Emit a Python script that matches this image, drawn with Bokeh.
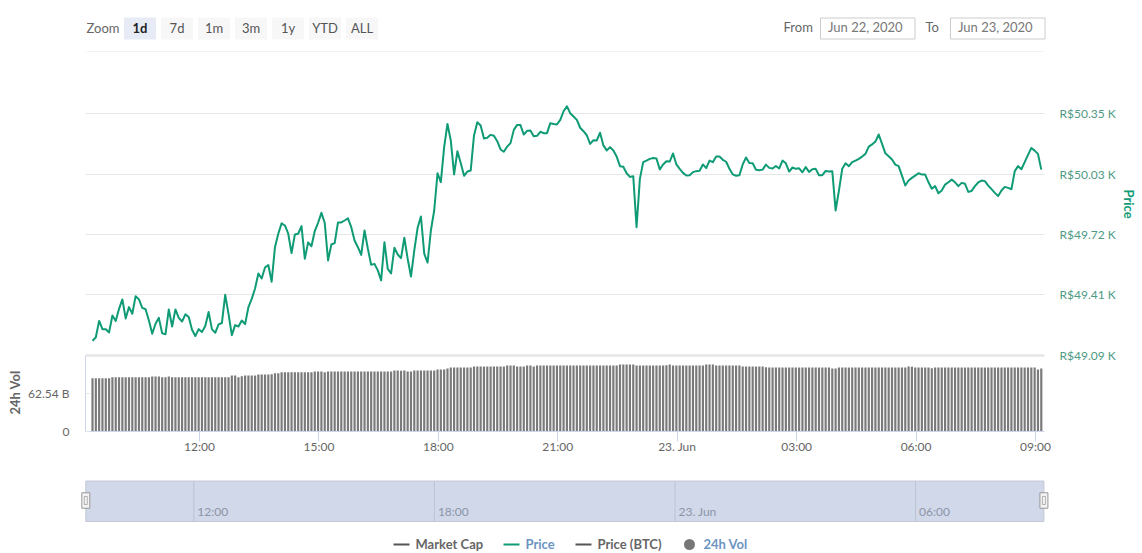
from bokeh.core.properties import value
from bokeh.embed import file_html
from bokeh.layouts import column
from bokeh.models import FixedTicker, LinearAxis, Range1d, Span, Title
from bokeh.plotting import figure
from bokeh.resources import INLINE

FONT = "Lato"
VFONT = value(FONT)
TEAL = "#0f9b75"
GREY = "#666666"

# ---- data ----
zoom_labels = ["1d", "7d", "1m", "3m", "1y", "YTD", "ALL"]
date_from = "Jun 22, 2020"
date_to = "Jun 23, 2020"
price_ticks = [49.09, 49.405, 49.72, 50.035, 50.35]
price_tick_labels = ["R$49.09 K", "R$49.41 K", "R$49.72 K", "R$50.03 K", "R$50.35 K"]
vol_ticks = [0, 62.54]
vol_tick_labels = ["0", "62.54 B"]
time_ticks = [12, 15, 18, 21, 24, 27, 30, 33]
time_tick_labels = ["12:00", "15:00", "18:00", "21:00", "23. Jun", "03:00", "06:00", "09:00"]
nav_ticks = [12, 18, 24, 30]
nav_tick_labels = ["12:00", "18:00", "23. Jun", "06:00"]
legend_labels = ["Market Cap", "Price", "Price (BTC)", "24h Vol"]
first_hour = 9.312  # 09:19 on 22 June, hours since midnight
step_hours = 5 / 60

price = [
    49.166, 49.185, 49.270, 49.227, 49.227, 49.210, 49.298, 49.270, 49.333, 49.382,
    49.283, 49.342, 49.307, 49.399, 49.382, 49.338, 49.331, 49.272, 49.203, 49.255,
    49.286, 49.205, 49.201, 49.330, 49.241, 49.330, 49.286, 49.267, 49.304, 49.290,
    49.224, 49.191, 49.227, 49.212, 49.243, 49.316, 49.227, 49.208, 49.252, 49.259,
    49.406, 49.307, 49.196, 49.248, 49.241, 49.272, 49.253, 49.342, 49.385, 49.439,
    49.517, 49.491, 49.548, 49.561, 49.474, 49.654, 49.724, 49.778, 49.767, 49.724,
    49.623, 49.720, 49.724, 49.764, 49.594, 49.679, 49.659, 49.738, 49.781, 49.833,
    49.781, 49.585, 49.668, 49.675, 49.783, 49.783, 49.793, 49.804, 49.758, 49.689,
    49.654, 49.614, 49.741, 49.646, 49.562, 49.567, 49.533, 49.481, 49.680, 49.541,
    49.517, 49.651, 49.616, 49.597, 49.703, 49.594, 49.501, 49.637, 49.755, 49.814,
    49.620, 49.574, 49.741, 49.845, 50.039, 49.993, 50.175, 50.296, 50.210, 50.033,
    50.154, 50.092, 50.026, 50.048, 50.053, 50.236, 50.305, 50.288, 50.220, 50.224,
    50.239, 50.234, 50.206, 50.163, 50.151, 50.178, 50.196, 50.265, 50.291, 50.290,
    50.241, 50.260, 50.262, 50.232, 50.234, 50.255, 50.248, 50.248, 50.300, 50.296,
    50.293, 50.317, 50.362, 50.388, 50.352, 50.335, 50.317, 50.276, 50.258, 50.237,
    50.192, 50.211, 50.210, 50.250, 50.184, 50.158, 50.175, 50.158, 50.126, 50.076,
    50.073, 50.039, 50.020, 50.024, 49.758, 50.010, 50.097, 50.105, 50.114, 50.118,
    50.116, 50.059, 50.085, 50.102, 50.100, 50.142, 50.085, 50.062, 50.041, 50.027,
    50.029, 50.045, 50.050, 50.052, 50.085, 50.066, 50.105, 50.097, 50.126, 50.126,
    50.109, 50.099, 50.062, 50.033, 50.026, 50.029, 50.085, 50.121, 50.092, 50.091,
    50.057, 50.055, 50.058, 50.084, 50.067, 50.064, 50.077, 50.064, 50.105, 50.091,
    50.048, 50.069, 50.062, 50.065, 50.044, 50.071, 50.046, 50.060, 50.062, 50.029,
    50.029, 50.051, 50.048, 50.050, 49.845, 49.949, 50.062, 50.091, 50.076, 50.097,
    50.105, 50.114, 50.126, 50.140, 50.178, 50.189, 50.204, 50.241, 50.192, 50.143,
    50.128, 50.111, 50.084, 50.076, 50.027, 49.975, 50.001, 50.015, 50.027, 50.039,
    50.032, 50.032, 49.992, 49.958, 49.972, 49.935, 49.949, 49.980, 49.992, 50.006,
    49.992, 49.972, 49.989, 49.984, 49.942, 49.947, 49.972, 49.991, 50.001, 49.998,
    49.975, 49.956, 49.937, 49.920, 49.949, 49.968, 49.963, 49.956, 50.050, 50.076,
    50.060, 50.097, 50.135, 50.171, 50.157, 50.140, 50.058,
]

volume = [
    87.7, 87.7, 87.7, 87.7, 87.7, 87.7, 89.4, 89.4, 89.4, 89.4,
    89.4, 89.4, 89.4, 89.4, 89.4, 89.4, 89.4, 89.4, 90.5, 90.5,
    90.5, 89.4, 89.4, 90.5, 89.4, 89.4, 89.4, 89.4, 89.4, 89.4,
    89.4, 89.4, 89.4, 89.4, 89.4, 89.4, 89.4, 89.4, 89.4, 89.4,
    89.4, 89.4, 92.2, 92.2, 89.4, 91.0, 92.2, 92.2, 92.2, 92.2,
    93.8, 93.8, 93.8, 93.8, 94.3, 96.0, 96.0, 97.6, 97.6, 97.6,
    97.6, 97.6, 97.6, 97.6, 97.6, 97.6, 97.6, 98.7, 98.7, 98.7,
    97.6, 98.7, 98.7, 98.7, 98.7, 98.7, 98.7, 98.7, 98.7, 98.7,
    98.7, 98.7, 98.7, 98.7, 98.7, 98.7, 98.7, 98.7, 98.7, 98.7,
    98.7, 100.4, 100.4, 99.8, 100.4, 98.7, 98.7, 100.4, 100.4, 100.4,
    100.4, 100.4, 100.4, 100.4, 102.0, 102.0, 102.0, 103.7, 105.3, 105.3,
    105.3, 105.3, 105.3, 105.3, 105.3, 106.9, 106.9, 106.9, 106.9, 106.9,
    106.9, 106.9, 106.9, 106.9, 106.9, 108.6, 108.6, 108.6, 106.9, 106.9,
    106.9, 108.6, 108.6, 106.9, 108.6, 108.6, 108.6, 108.6, 108.6, 108.6,
    108.6, 108.6, 108.6, 108.6, 108.6, 108.6, 108.6, 108.6, 108.6, 108.6,
    108.6, 108.6, 108.6, 108.6, 108.6, 108.6, 108.6, 108.6, 108.6, 110.2,
    110.2, 110.2, 110.2, 110.2, 108.6, 108.6, 108.6, 108.6, 108.6, 108.6,
    108.6, 108.6, 108.6, 109.2, 110.2, 108.6, 108.6, 108.6, 108.6, 108.6,
    108.6, 108.6, 108.6, 108.6, 108.6, 110.2, 110.2, 110.2, 108.6, 108.6,
    108.6, 108.6, 108.6, 108.6, 108.6, 108.6, 106.9, 106.9, 106.9, 106.9,
    106.9, 106.9, 106.9, 105.9, 105.3, 105.3, 105.3, 105.3, 105.3, 105.3,
    105.3, 105.3, 105.3, 105.3, 105.3, 105.3, 105.3, 105.3, 105.3, 105.3,
    105.3, 105.3, 105.3, 103.7, 103.7, 105.3, 105.3, 105.3, 105.3, 105.3,
    105.3, 105.3, 105.3, 105.3, 105.3, 105.3, 105.3, 105.3, 105.3, 105.3,
    105.3, 105.3, 105.3, 105.3, 105.3, 105.3, 106.9, 106.4, 105.3, 105.3,
    105.3, 105.3, 105.3, 104.2, 105.3, 105.3, 105.3, 105.3, 105.3, 105.3,
    105.3, 105.3, 105.3, 105.3, 105.3, 105.3, 105.3, 105.3, 105.3, 105.3,
    105.3, 105.3, 105.3, 105.3, 105.3, 105.3, 105.3, 105.3, 105.3, 105.3,
    105.3, 105.3, 105.3, 105.3, 105.3, 102.0, 103.7,
]

price_times = [first_hour + i * step_hours for i in range(len(price))]
vol_times = [first_hour + i * step_hours for i in range(len(volume))]

W = 1142


def bare(height, y0, y1, x0=0, x1=W):
    f = figure(width=W, height=height, x_range=Range1d(x0, x1), y_range=Range1d(y0, y1),
               output_backend="svg", toolbar_location=None, min_border=0,
               x_axis_location=None, y_axis_location=None, outline_line_color=None,
               frame_align=False)
    f.grid.visible = False
    return f


# ---- header (page-pixel coordinates) ----
h = bare(52, 52, 0)
h.text([86], [27], ["Zoom"], text_font=VFONT, text_font_size="13px", text_color=GREY,
       text_align="left", text_baseline="middle")
for i, lab in enumerate(zoom_labels):
    left = 123.5 + 37 * i
    active = i == 0
    h.quad(left=[left], right=[left + 32], top=[17], bottom=[39],
           fill_color="#e6ebf5" if active else "#f7f7f7", line_color=None)
    h.text([left + 16], [27], [lab], text_font=VFONT, text_font_size="13px",
           text_font_style="bold" if active else "normal",
           text_color="#222222" if active else "#555555",
           text_align="center", text_baseline="middle")
for label, lx, bx, val in (("From", 783, 819.5, date_from), ("To", 925, 949.5, date_to)):
    h.text([lx], [26], [label], text_font=VFONT, text_font_size="13px", text_color=GREY,
           text_align="left", text_baseline="middle")
    h.quad(left=[bx + 0.5], right=[bx + 95], top=[17.5], bottom=[38.5],
           fill_color="white", line_color="#cccccc", line_width=1)
    h.text([bx + 8], [26.5], [val], text_font=VFONT, text_font_size="13px", text_color="#777777",
           text_align="left", text_baseline="middle")
h.segment([86], [51.5], [1044], [51.5], line_color="#e6e6e6", line_width=1)

# ---- main chart: price + volume ----
p = figure(width=W, height=404, x_range=Range1d(9.136, 33.226), y_range=Range1d(48.694, 50.668),
           output_backend="svg", toolbar_location=None, y_axis_location="right",
           min_border_left=85, min_border_right=98, min_border_top=0, min_border_bottom=25,
           outline_line_color=None, frame_align=False)
p.extra_y_ranges = {"vol": Range1d(0, 623.8)}
p.xgrid.visible = False
p.ygrid.ticker = FixedTicker(ticks=price_ticks)
p.ygrid.grid_line_color = "#e6e6e6"
p.add_layout(Span(location=price_ticks[0], dimension="width", line_color="#e6e6e6", line_width=2.5))

ay = p.yaxis[0]
ay.ticker = FixedTicker(ticks=price_ticks)
ay.major_label_overrides = dict(zip(price_ticks, price_tick_labels))
ay.axis_line_color = None
ay.major_tick_line_color = None
ay.minor_tick_line_color = None
ay.major_label_standoff = 15
ay.major_tick_in = 0
ay.major_tick_out = 0
ay.major_label_text_font = FONT
ay.major_label_text_font_size = "12px"
ay.major_label_text_color = "#4e9a84"

ax = p.xaxis[0]
ax.ticker = FixedTicker(ticks=time_ticks)
ax.major_label_overrides = dict(zip(time_ticks, time_tick_labels))
ax.axis_line_color = "#ccd6eb"
ax.major_tick_line_color = "#ccd6eb"
ax.minor_tick_line_color = None
ax.major_tick_in = 0
ax.major_tick_out = 10
ax.major_label_standoff = -3
ax.major_label_text_font = FONT
ax.major_label_text_font_size = "12px"
ax.major_label_text_color = GREY

av = LinearAxis(y_range_name="vol", ticker=FixedTicker(ticks=vol_ticks),
                major_label_overrides=dict(zip(vol_ticks, vol_tick_labels)), bounds=(0, 125))
av.axis_line_color = "#ccd6eb"
av.major_tick_line_color = "#e6e6e6"
av.minor_tick_line_color = None
av.major_tick_in = 4
av.major_tick_out = 0
av.major_label_standoff = 16
av.major_label_text_font = FONT
av.major_label_text_font_size = "12px"
av.major_label_text_color = GREY
p.add_layout(av, "left")

p.vbar(x=vol_times, top=volume, bottom=0, width=0.055, y_range_name="vol",
       fill_color="#7a7a7a", line_color=None)
p.line(price_times, price, line_color=TEAL, line_width=2, line_join="round")

p.add_layout(Title(text="24h Vol", align="left", offset=17, standoff=4, text_font=FONT,
                   text_font_style="bold", text_font_size="13px", text_color=GREY), "left")
p.add_layout(Title(text="Price", align="left", offset=137, standoff=4, text_font=FONT,
                   text_font_style="bold", text_font_size="13px", text_color=TEAL), "right")


# ---- navigator + legend: x in hours on the navigator's own scale, y in page pixels ----
def to_h(px):
    return 12 + (px - 193.3) / 40.1


n = bare(97, 553, 456, to_h(0), to_h(W))
sel_left, sel_right = 9.307, 33.2
n.quad(left=[sel_left], right=[sel_right], top=[480.5], bottom=[521],
       fill_color="#d0d8ea", line_color="#c4c8d4", line_width=1)
n.segment(nav_ticks, [481] * 4, nav_ticks, [521] * 4, line_color="#bcc3d3", line_width=1)
n.text(nav_ticks, [511] * 4, nav_tick_labels, x_offset=3.5, text_font=VFONT, text_font_size="12px",
       text_color="#8d95a8", text_align="left", text_baseline="middle")
for hx in (sel_left, sel_right):
    n.rect([hx], [500], width=8, height=15.5, width_units="screen", height_units="data",
           fill_color="#f2f2f2", line_color="#999999", line_width=1)
    n.rect([hx], [500], width=3, height=8, width_units="screen", height_units="data",
           fill_color="#f2f2f2", line_color="#999999", line_width=0.7)

# legend
LEG_Y = 543
for x0, x1, c in ((393, 409, "#555555"), (503, 519, TEAL), (575, 591, "#555555")):
    n.segment([to_h(x0)], [LEG_Y + 1], [to_h(x1)], [LEG_Y + 1], line_color=c, line_width=2)
n.scatter([to_h(689)], [LEG_Y + 1], size=11, fill_color="#777777", line_color=None)
for lab, x0, c in zip(legend_labels, (415, 525, 597, 703), (GREY, "#6c94c2", GREY, "#6c94c2")):
    n.text([to_h(x0)], [LEG_Y], [lab], text_font=VFONT, text_font_size="13px", text_font_style="bold",
           text_color=c, text_align="left", text_baseline="middle")

page = column(h, p, n, spacing=0)
open("out.html", "w").write(file_html(page, INLINE))
